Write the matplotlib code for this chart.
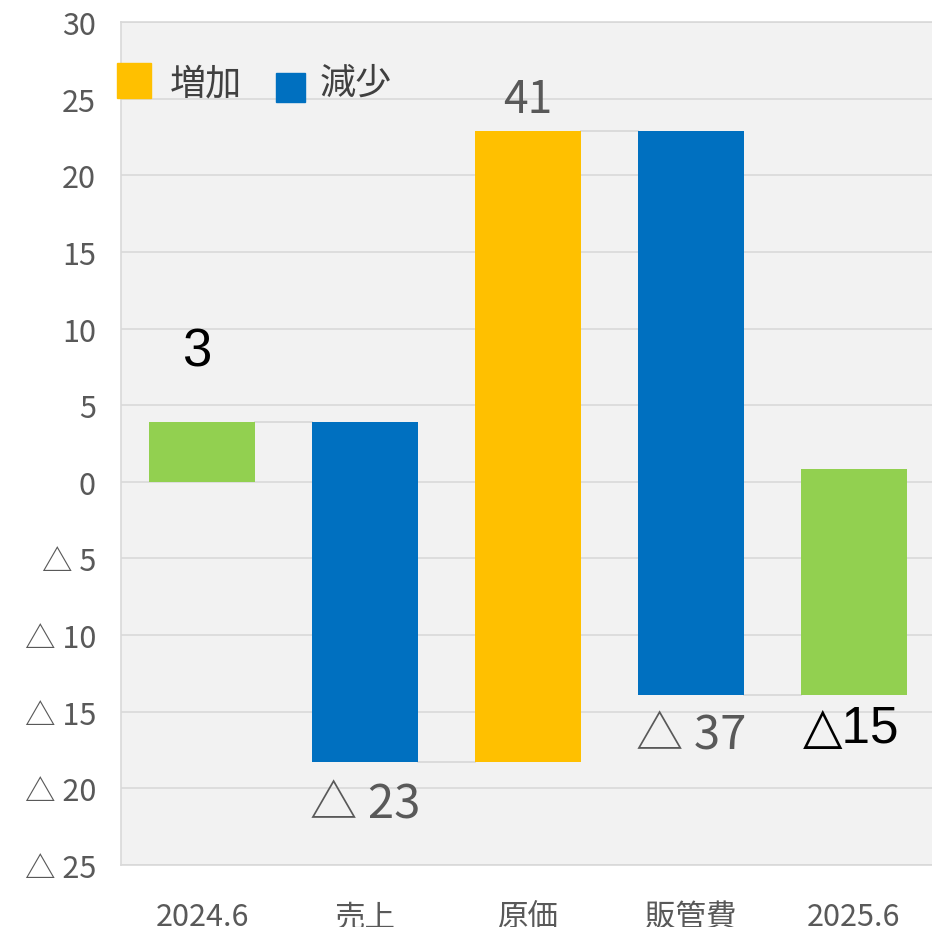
import matplotlib
matplotlib.use("Agg")
import matplotlib.pyplot as plt
from matplotlib.patches import Rectangle

plt.rcParams['font.family'] = ['Noto Sans CJK JP', 'DejaVu Sans']

categories = ['2024.6', '売上', '原価', '販管費', '2025.6']
bar_bottom = [0.0, -18.3, -18.3, -13.9, -13.9]
bar_top = [3.9, 3.9, 22.9, 22.9, 0.85]
bar_kind = ['total', 'decrease', 'increase', 'decrease', 'total']
label_texts = ['3', '△ 23', '41', '△ 37', '△15']
label_at = ['top', 'bottom', 'top', 'bottom', 'bottom']
y_ticks = [30, 25, 20, 15, 10, 5, 0, -5, -10, -15, -20, -25]
legend_labels = ['増加', '減少']

kind_colors = {'total': '#92D050', 'decrease': '#0070C0', 'increase': '#FFC000'}
W, H = 932, 928
fig = plt.figure(figsize=(W / 100, H / 100), dpi=100)
ax = fig.add_axes([121 / W, 1 - 866 / H, 814 / W, 843 / H])
ax.set_facecolor('#f2f2f2')

x = list(range(len(categories)))
width = 0.65
heights = [t - b for t, b in zip(bar_top, bar_bottom)]
ax.bar(x, heights, bottom=bar_bottom, width=width,
       color=[kind_colors[k] for k in bar_kind], zorder=3)

# connectors between consecutive bars at their shared level
for i in range(len(categories) - 1):
    shared = set([round(bar_bottom[i], 3), round(bar_top[i], 3)]) & \
             set([round(bar_bottom[i + 1], 3), round(bar_top[i + 1], 3)])
    for lv in shared:
        ax.plot([x[i] + width / 2, x[i + 1] - width / 2], [lv, lv],
                color='#d9d9d9', lw=1.3, zorder=2)

ax.set_xlim(-0.5, len(categories) - 0.5)
ax.set_ylim(-25, 30)
ax.set_yticks(y_ticks)
ax.set_yticklabels([str(v) if v >= 0 else '△ ' + str(-v) for v in y_ticks])
ax.set_xticks(x)
ax.set_xticklabels(categories)
ax.grid(axis='y', color='#d9d9d9', lw=1.2, zorder=1)
ax.tick_params(axis='y', length=0, pad=18, labelsize=22, labelcolor='#595959')
ax.tick_params(axis='x', length=0, pad=26, labelsize=22, labelcolor='#595959')
for s in ['left', 'top', 'bottom']:
    ax.spines[s].set_color('#d9d9d9')
    ax.spines[s].set_linewidth(1.2)
ax.spines['right'].set_visible(False)

# data labels
styles = [
    dict(color='black', fontsize=38, family=['Liberation Sans', 'DejaVu Sans'], off=(-4, 51), weight='normal'),
    dict(color='#595959', fontsize=34, family=['Noto Sans CJK JP', 'DejaVu Sans'], off=(0, -30), weight='normal'),
    dict(color='#595959', fontsize=32, family=['Noto Sans CJK JP', 'DejaVu Sans'], off=(0, 23), weight='normal'),
    dict(color='#595959', fontsize=34, family=['Noto Sans CJK JP', 'DejaVu Sans'], off=(0, -29), weight='normal'),
    dict(color='black', fontsize=37, family=['Liberation Sans', 'DejaVu Sans'], off=(-2, -24), weight='normal'),
]
for i, (txt, where, st) in enumerate(zip(label_texts, label_at, styles)):
    yv = bar_top[i] if where == 'top' else bar_bottom[i]
    ax.annotate(txt, (x[i], yv), xytext=st['off'], textcoords='offset points',
                ha='center', va='center', color=st['color'], fontsize=st['fontsize'],
                family=st['family'], fontweight=st['weight'], zorder=4)

# legend
leg = [((117, 64, 34, 35), kind_colors['increase'], legend_labels[0], 170),
       ((276, 74, 29, 29), kind_colors['decrease'], legend_labels[1], 320)]
for (px, py, pw, ph), col, lab, tx in leg:
    fig.add_artist(Rectangle((px / W, 1 - (py + ph) / H), pw / W, ph / H,
                             transform=fig.transFigure, color=col, zorder=5))
    fig.text(tx / W, 1 - 84 / H, lab, fontsize=26, color='#404040',
             ha='left', va='center', zorder=5)

fig.savefig('out.png', dpi=100)
